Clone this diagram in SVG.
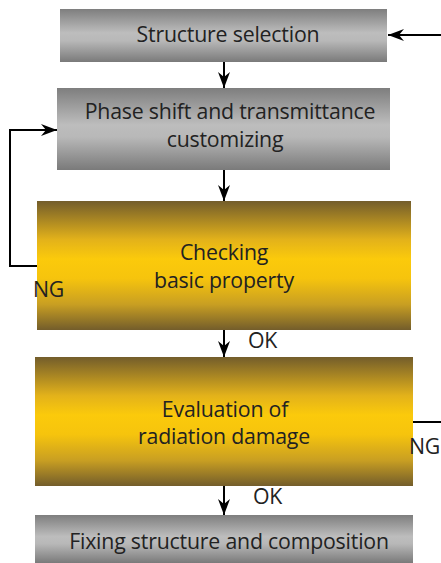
<svg xmlns="http://www.w3.org/2000/svg" width="441" height="563" viewBox="0 0 441 563">
<defs>
<linearGradient id="gray" x1="0" y1="0" x2="0" y2="1">
<stop offset="0" stop-color="#7e7e7e"/>
<stop offset="0.45" stop-color="#bdbdbd"/>
<stop offset="0.6" stop-color="#b8b8b8"/>
<stop offset="1" stop-color="#7a7a7a"/>
</linearGradient>
<linearGradient id="gold" x1="0" y1="0" x2="0" y2="1">
<stop offset="0" stop-color="#735d2b"/>
<stop offset="0.3" stop-color="#e3b21a"/>
<stop offset="0.45" stop-color="#fbca0b"/>
<stop offset="0.6" stop-color="#f6c40d"/>
<stop offset="0.8" stop-color="#c99f22"/>
<stop offset="1" stop-color="#735d2b"/>
</linearGradient>
<marker id="ah" viewBox="0 0 16 12" refX="16" refY="6" markerWidth="16" markerHeight="12" markerUnits="userSpaceOnUse" orient="auto">
<path d="M0,0 L16,6 L0,12 L5,6 z" fill="#000"/>
</marker>
</defs>
<style>
text{font-family:"Open Sans","Liberation Sans",sans-serif;font-size:21.3px;fill:#222;text-anchor:middle;letter-spacing:-0.2px}
.lbl{text-anchor:start}
.c{fill:none;stroke:#000;stroke-width:2}
</style>
<g id="n1"><rect x="60" y="9" width="327" height="53" fill="url(#gray)"/><text x="228" y="42">Structure selection</text></g>
<g id="n2"><rect x="57" y="88" width="333" height="82" fill="url(#gray)"/><text x="230" y="119">Phase shift and transmittance</text><text x="225" y="147">customizing</text></g>
<g id="n3"><rect x="37" y="201" width="374" height="129" fill="url(#gold)"/><text x="224" y="260">Checking</text><text x="224" y="288">basic property</text></g>
<g id="n4"><rect x="35" y="357" width="378" height="129" fill="url(#gold)"/><text x="225" y="417">Evaluation of</text><text x="224" y="444">radiation damage</text></g>
<g id="n5"><rect x="35" y="515" width="378" height="48" fill="url(#gray)"/><text x="229" y="549">Fixing structure and composition</text></g>
<g id="connectors">
<path class="c" d="M224,62 V88" marker-end="url(#ah)"/>
<path class="c" d="M224,170 V201" marker-end="url(#ah)"/>
<path class="c" d="M224,330 V357" marker-end="url(#ah)"/>
<path class="c" d="M224,486 V515" marker-end="url(#ah)"/>
<path class="c" d="M37,266 H10 V130 H57" marker-end="url(#ah)"/>
<path class="c" d="M413,422 H441"/>
<path class="c" d="M441,35 H388" marker-end="url(#ah)"/>
<text class="lbl" x="248" y="348">OK</text>
<text class="lbl" x="253" y="504">OK</text>
<text class="lbl" x="33" y="297">NG</text>
<text class="lbl" x="409" y="454">NG</text>
</g>
</svg>
